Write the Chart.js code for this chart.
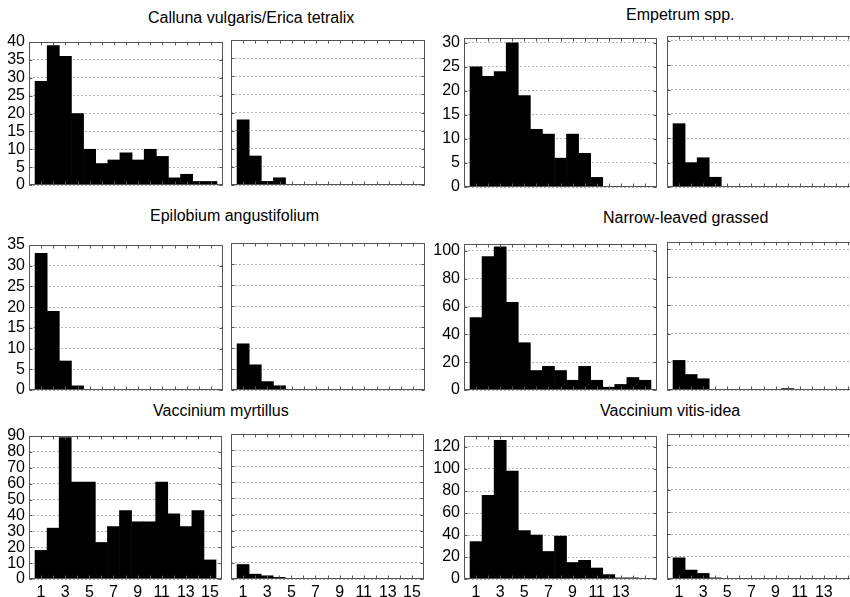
<!DOCTYPE html>
<html>
<head>
<meta charset="utf-8">
<script src="https://cdn.jsdelivr.net/npm/chart.js@4/dist/chart.umd.min.js"></script>
<style>
  html, body { margin: 0; padding: 0; background: #fff; }
  body { position: relative; width: 850px; height: 597px; overflow: hidden;
         font-family: "Liberation Sans", Arial, sans-serif; }
  canvas { position: absolute; }
  .title { position: absolute; font-size: 16px; color: #000; white-space: nowrap; line-height: 18px; }
</style>
</head>
<body>
<div class="title" style="left:148px; top:9px;">Calluna vulgaris/Erica tetralix</div>
<div class="title" style="left:626px; top:6px;">Empetrum spp.</div>
<div class="title" style="left:150px; top:207px;">Epilobium angustifolium</div>
<div class="title" style="left:603px; top:209px;">Narrow-leaved grassed</div>
<div class="title" style="left:153px; top:402px;">Vaccinium myrtillus</div>
<div class="title" style="left:600px; top:402px;">Vaccinium vitis-idea</div>

<script>
// Histogram classes 1..15
const bins = [1, 2, 3, 4, 5, 6, 7, 8, 9, 10, 11, 12, 13, 14, 15];

// Counts per class: "A" = left panel, "B" = right panel of each species
const callunaA   = [29, 39, 36, 20, 10, 6, 7, 9, 7, 10, 8, 2, 3, 1, 1];
const callunaB   = [18, 8, 1, 2, 0, 0, 0, 0, 0, 0, 0, 0, 0, 0, 0];
const empetrumA  = [25, 23, 24, 30, 19, 12, 11, 6, 11, 7, 2, 0, 0, 0, 0];
const empetrumB  = [13, 5, 6, 2, 0, 0, 0, 0, 0, 0, 0, 0, 0, 0, 0];
const epilobiumA = [33, 19, 7, 1, 0, 0, 0, 0, 0, 0, 0, 0, 0, 0, 0];
const epilobiumB = [11, 6, 2, 1, 0, 0, 0, 0, 0, 0, 0, 0, 0, 0, 0];
const grassA     = [52, 96, 103, 63, 34, 14, 17, 14, 7, 17, 7, 2, 4, 9, 7];
const grassB     = [21, 11, 8, 0, 0, 0, 0, 0, 0, 1, 0, 0, 0, 0, 0];
const myrtillusA = [18, 32, 89, 61, 61, 23, 33, 43, 36, 36, 61, 41, 33, 43, 12];
const myrtillusB = [9, 3, 2, 1, 0, 0, 0, 0, 0, 0, 0, 0, 0, 0, 0];
const vitisA     = [34, 76, 126, 98, 44, 40, 25, 39, 15, 17, 10, 4, 1, 1, 0];
const vitisB     = [19, 8, 5, 1, 0, 0, 0, 0, 0, 0, 0, 0, 0, 0, 0];

// Value-axis tick labels
const callunaTicks   = [0, 5, 10, 15, 20, 25, 30, 35, 40];
const empetrumTicks  = [0, 5, 10, 15, 20, 25, 30];
const epilobiumTicks = [0, 5, 10, 15, 20, 25, 30, 35];
const grassTicks     = [0, 20, 40, 60, 80, 100];
const myrtillusTicks = [0, 10, 20, 30, 40, 50, 60, 70, 80, 90];
const vitisTicks     = [0, 20, 40, 60, 80, 100, 120];

// Class-axis tick labels along the bottom row
const xLabelsFull  = [1, 3, 5, 7, 9, 11, 13, 15];
const xLabelsShort = [1, 3, 5, 7, 9, 11, 13];

// Frame around each plot with small inward tick marks
const framePlugin = {
  id: 'frame',
  afterDraw(chart) {
    const { ctx, chartArea: a, scales: { x, y } } = chart;
    const l = Math.round(a.left) + 0.5, t = Math.round(a.top) + 0.5;
    const r = Math.round(a.right) - 0.5, b = Math.round(a.bottom) - 0.5;
    ctx.save();
    ctx.strokeStyle = '#555';
    ctx.lineWidth = 1;
    ctx.beginPath();
    bins.forEach(v => {
      const px = Math.round(x.getPixelForValue(v)) + 0.5;
      ctx.moveTo(px, t); ctx.lineTo(px, t + 3);
      ctx.moveTo(px, b); ctx.lineTo(px, b - 3);
    });
    y.ticks.forEach(tk => {
      const py = Math.round(y.getPixelForValue(tk.value)) + 0.5;
      ctx.moveTo(l, py); ctx.lineTo(l + 3, py);
      ctx.moveTo(r, py); ctx.lineTo(r - 3, py);
    });
    ctx.stroke();
    ctx.strokeRect(l, t, r - l, b - t);
    ctx.restore();
  }
};

function panel(opt) {
  const [bx, by, bw, bh] = opt.box;
  const padL = opt.yLabels ? 36 : 1, padR = 2, padT = 10;
  const padB = opt.xLabels ? 26 : 12;
  const W = bw + padL + padR, H = bh + padT + padB;
  const cv = document.createElement('canvas');
  cv.width = W; cv.height = H;
  cv.style.left = (bx - padL) + 'px';
  cv.style.top = (by - padT) + 'px';
  cv.style.width = W + 'px';
  cv.style.height = H + 'px';
  document.body.appendChild(cv);

  const font = { family: '"Liberation Sans", Arial, sans-serif', size: 16, lineHeight: 1 };

  new Chart(cv, {
    type: 'bar',
    data: {
      datasets: [{
        data: bins.map((b, i) => ({ x: b, y: opt.values[i] })),
        backgroundColor: '#000',
        borderWidth: 0,
        barPercentage: 1,
        categoryPercentage: 1
      }]
    },
    options: {
      responsive: false,
      animation: false,
      events: [],
      layout: { padding: { top: padT, right: padR, left: 0, bottom: 0 } },
      plugins: { legend: { display: false }, tooltip: { enabled: false } },
      scales: {
        x: {
          type: 'linear', min: 0, max: 16, offset: false,
          grid: { display: false, drawTicks: false },
          border: { display: false },
          ticks: { display: !!opt.xLabels, color: '#000', font, padding: 6, maxRotation: 0, autoSkip: false },
          afterBuildTicks: s => { if (opt.xLabels) s.ticks = opt.xLabels.map(v => ({ value: v })); },
          afterFit: s => { s.height = padB; }
        },
        y: {
          min: 0, max: opt.yMax,
          grid: { color: '#b5b5b5', lineWidth: 1, drawTicks: false },
          border: { display: false, dash: [2, 2] },
          ticks: { display: opt.yLabels, autoSkip: false, color: '#000', font, padding: 4 },
          afterBuildTicks: s => { s.ticks = opt.yTicks.map(v => ({ value: v })); },
          afterFit: s => { s.width = padL; }
        }
      }
    },
    plugins: [framePlugin]
  });
}

// Left species column
panel({ box: [29, 40, 194, 145],   values: callunaA,   yMax: 40,  yTicks: callunaTicks,   yLabels: true });
panel({ box: [231, 40, 194, 145],  values: callunaB,   yMax: 40,  yTicks: callunaTicks,   yLabels: false });
panel({ box: [29, 243, 194, 147],  values: epilobiumA, yMax: 35,  yTicks: epilobiumTicks, yLabels: true });
panel({ box: [231, 243, 194, 147], values: epilobiumB, yMax: 35,  yTicks: epilobiumTicks, yLabels: false });
panel({ box: [29, 434, 194, 145],  values: myrtillusA, yMax: 90,  yTicks: myrtillusTicks, yLabels: true,  xLabels: xLabelsFull });
panel({ box: [231, 434, 194, 145], values: myrtillusB, yMax: 90,  yTicks: myrtillusTicks, yLabels: false, xLabels: xLabelsFull });

// Right species column
panel({ box: [464, 36, 193, 151],  values: empetrumA, yMax: 31,  yTicks: empetrumTicks, yLabels: true });
panel({ box: [667, 36, 193, 151],  values: empetrumB, yMax: 31,  yTicks: empetrumTicks, yLabels: false });
panel({ box: [464, 242, 193, 148], values: grassA,    yMax: 105, yTicks: grassTicks,    yLabels: true });
panel({ box: [667, 242, 193, 148], values: grassB,    yMax: 105, yTicks: grassTicks,    yLabels: false });
panel({ box: [464, 434, 193, 145], values: vitisA,    yMax: 130, yTicks: vitisTicks,    yLabels: true,  xLabels: xLabelsShort });
panel({ box: [667, 434, 193, 145], values: vitisB,    yMax: 130, yTicks: vitisTicks,    yLabels: false, xLabels: xLabelsShort });
</script>
</body>
</html>
